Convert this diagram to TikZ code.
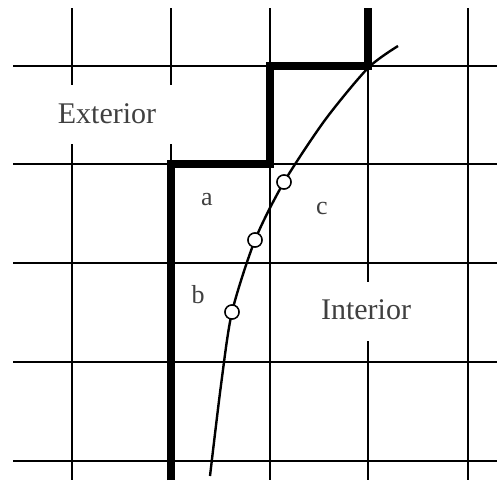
\documentclass[tikz,border=0pt]{standalone}
\usepackage{fontspec}
\setmainfont{Liberation Serif}
\begin{document}
\begin{tikzpicture}[x=1pt,y=-1pt,
  thin grid/.style={line width=2.6pt,black},
  thick wall/.style={line width=8pt,black,line join=miter},
  lbl/.style={font=\fontsize{30}{36}\selectfont,inner sep=0pt,text=black!75},
  small lbl/.style={font=\fontsize{26}{30}\selectfont,inner sep=0pt,text=black!75},
  pt/.style={circle,draw=black,fill=white,line width=1.4pt,minimum size=14pt,inner sep=0pt}]
\useasboundingbox[fill=white] (0,0) rectangle (497,483);
% horizontal grid lines
\foreach \y in {66,164,263,362,461} \draw[thin grid] (13,\y) -- (497,\y);
% vertical grid lines
\draw[thin grid] (72,8) -- (72,85);
\draw[thin grid] (72,144) -- (72,480);
\draw[thin grid] (171,8) -- (171,85);
\draw[thin grid] (171,144) -- (171,164);
\draw[thin grid] (270,8) -- (270,480);
\draw[thin grid] (368,66) -- (368,282);
\draw[thin grid] (368,341) -- (368,480);
\draw[thin grid] (468,8) -- (468,480);
% boundary
\draw[thick wall] (171,480) -- (171,164) -- (270,164) -- (270,66) -- (368,66) -- (368,8);
% curve
\coordinate (c0) at (210,476);
\coordinate (c5) at (398,46);
\node[pt] (p1) at (232,312) {};
\node[pt] (p2) at (255,240) {};
\node[pt] (p3) at (284,182) {};
\begin{scope}[on background layer/.style={}]
\draw[line width=2.4pt] plot[smooth,tension=0.45] coordinates {(210,476) (221,385) (232,312) (255,240) (284,182) (325,120) (368,68) (398,46)};
\end{scope}
\node[pt] at (p1) {};
\node[pt] at (p2) {};
\node[pt] at (p3) {};
% labels
\node[lbl] (ext) at (107,114) {Exterior};
\node[lbl] (int) at (366,310) {Interior};
\node[small lbl] (la) at (207,200) {a};
\node[small lbl] (lb) at (198,295) {b};
\node[small lbl] (lc) at (322,208) {c};
\end{tikzpicture}
\end{document}
